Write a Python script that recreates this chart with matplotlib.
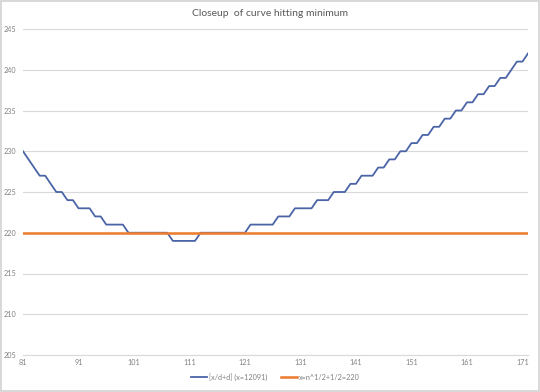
import matplotlib
matplotlib.use("Agg")
import matplotlib.pyplot as plt

x_values = list(range(81, 173))
blue_values = [
    230, 229, 228, 227, 227, 226, 225, 225, 224, 224,   # 81-90
    223, 223, 223, 222, 222, 221, 221, 221, 221, 220,   # 91-100
    220, 220, 220, 220, 220, 220, 220, 219, 219, 219,   # 101-110
    219, 219, 220, 220, 220, 220, 220, 220, 220, 220,   # 111-120
    220, 221, 221, 221, 221, 221, 222, 222, 222, 223,   # 121-130
    223, 223, 223, 224, 224, 224, 225, 225, 225, 226,   # 131-140
    226, 227, 227, 227, 228, 228, 229, 229, 230, 230,   # 141-150
    231, 231, 232, 232, 233, 233, 234, 234, 235, 235,   # 151-160
    236, 236, 237, 237, 238, 238, 239, 239, 240, 241,   # 161-170
    241, 242,                                           # 171-172
]
orange_values = [220] * len(x_values)
blue_label = "[x/d+d] (x=12091)"
orange_label = "x=n^1/2+1/2=220"
title = "Closeup  of curve hitting minimum"
y_ticks = [205, 210, 215, 220, 225, 230, 235, 240, 245]
x_tick_labels = [str(v) for v in range(81, 172, 10)]

plt.rcParams['font.family'] = ['Lato', 'DejaVu Sans']
text_col = "#595959"
grid_col = "#D9D9D9"

fig = plt.figure(figsize=(5.4, 3.92), dpi=100)
fig.patch.set_edgecolor(grid_col)
fig.patch.set_linewidth(1.5)
ax = fig.add_axes([23/540, 1-355/392, (528-23)/540, (355-29)/392])

idx = list(range(len(x_values)))
ax.plot(idx, blue_values, color="#4A64A6", lw=1.3, label=blue_label, zorder=3)
ax.plot(idx, orange_values, color="#ED7D31", lw=1.85, label=orange_label, zorder=4)

ax.set_xlim(0, len(x_values) - 1)
ax.set_ylim(205, 245)
ax.set_yticks(y_ticks)
ax.set_yticklabels([str(v) for v in y_ticks])
ax.set_xticks(idx[::10])
ax.set_xticklabels(x_tick_labels)
ax.tick_params(axis='both', length=0, labelsize=5.2, labelcolor="#808080")
ax.tick_params(axis='y', pad=5)
ax.tick_params(axis='x', pad=3)
ax.grid(axis='y', color=grid_col, lw=0.8)
ax.set_axisbelow(True)
for s in ['top', 'right', 'left']:
    ax.spines[s].set_visible(False)
ax.spines['bottom'].set_color(grid_col)
ax.spines['bottom'].set_linewidth(0.8)

fig.suptitle(title, y=1-14/392, va='center', fontsize=7.5, color=text_col)
fig.legend(loc='center', bbox_to_anchor=(0.51, 1-377/392), ncol=2, frameon=False,
           fontsize=5.2, labelcolor="#808080", handlelength=2.2, handletextpad=0.3,
           columnspacing=1.8)

fig.savefig("out.png", dpi=100)
